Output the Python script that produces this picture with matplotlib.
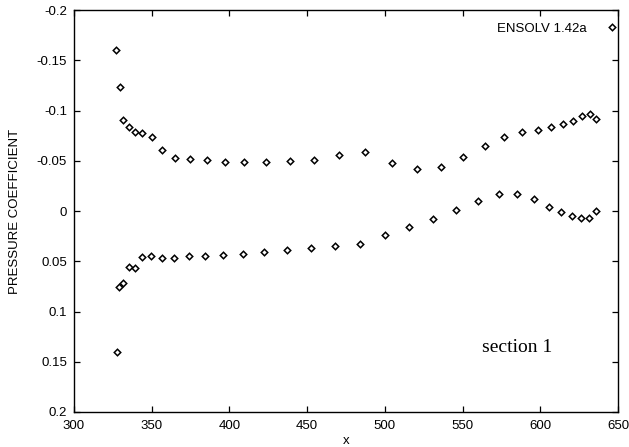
import matplotlib
matplotlib.use("Agg")
import matplotlib.pyplot as plt
from matplotlib.ticker import FuncFormatter

# Upper branch (suction side)
x_upper = [327.0, 329.4, 331.7, 335.2, 339.0, 344.0, 350.0, 356.8, 365.2, 374.6,
           385.4, 397.0, 409.6, 423.8, 438.8, 454.6, 470.7, 487.3, 504.4, 520.7,
           536.0, 550.3, 564.3, 576.9, 588.3, 598.4, 607.0, 614.7, 621.3, 627.1,
           631.8, 635.9]
cp_upper = [-0.160, -0.123, -0.091, -0.084, -0.079, -0.078, -0.074, -0.061, -0.053, -0.052,
            -0.051, -0.049, -0.049, -0.049, -0.050, -0.051, -0.056, -0.059, -0.048, -0.042,
            -0.044, -0.054, -0.065, -0.074, -0.079, -0.081, -0.084, -0.087, -0.090, -0.095,
            -0.097, -0.092]

# Lower branch (pressure side)
x_lower = [327.5, 329.2, 331.7, 335.2, 339.0, 343.5, 349.3, 356.4, 364.5, 373.8,
           384.3, 396.1, 408.8, 422.3, 437.1, 452.3, 468.1, 484.2, 500.1, 515.8,
           530.8, 545.6, 559.8, 573.3, 585.3, 596.0, 605.3, 613.4, 620.7, 626.5,
           631.4, 635.7]
cp_lower = [0.1406, 0.0753, 0.0713, 0.0554, 0.0564, 0.0458, 0.0448, 0.0464, 0.0468, 0.0451,
            0.0448, 0.0438, 0.0425, 0.0411, 0.0391, 0.0368, 0.0351, 0.0331, 0.0239, 0.0162,
            0.0080, -0.0010, -0.0103, -0.0169, -0.0169, -0.0120, -0.0040, 0.0010, 0.0047, 0.0067,
            0.0067, -0.0003]

x_ticks = [300, 350, 400, 450, 500, 550, 600, 650]
y_ticks = [-0.2, -0.15, -0.1, -0.05, 0, 0.05, 0.1, 0.15, 0.2]
series_label = "ENSOLV 1.42a"
annotation = "section 1"

plt.rcParams['font.family'] = ['Liberation Sans', 'DejaVu Sans']

fig = plt.figure(figsize=(6.29, 4.47), dpi=100)
ax = fig.add_axes([0.1176, 0.0783, 0.8649, 0.8993])

ax.plot(x_upper + x_lower, cp_upper + cp_lower, linestyle='none', marker='D',
        ms=3.3, mew=1.1, mfc='white', mec='black', label=series_label)

ax.set_xlim(300, 650)
ax.set_ylim(0.2, -0.2)
ax.set_xticks(x_ticks)
ax.set_yticks(y_ticks)
ax.xaxis.set_major_formatter(FuncFormatter(lambda v, p: "%g" % v))
ax.yaxis.set_major_formatter(FuncFormatter(lambda v, p: ("%g" % v) if abs(v) > 1e-12 else "0"))
ax.tick_params(direction='in', length=4, width=0.9, top=True, right=True,
               labelsize=9.5, colors='black')
ax.tick_params(axis='x', pad=6)
ax.tick_params(axis='y', pad=5)
for s in ax.spines.values():
    s.set_linewidth(1.0)
    s.set_color('black')

ax.set_xlabel("x", fontsize=9.5, labelpad=2)
ax.set_ylabel("PRESSURE COEFFICIENT", fontsize=9.5, labelpad=11)

leg = ax.legend(loc='upper right', bbox_to_anchor=(1.015, 0.995), frameon=False,
                markerfirst=False, fontsize=9.5, handlelength=0.6, handletextpad=1.6,
                borderaxespad=0.0, borderpad=0.8)

ax.text(585, 0.136, annotation, family=['Liberation Serif', 'DejaVu Serif'],
        fontsize=14, ha='center', va='center')

fig.savefig("out.png", dpi=100)
